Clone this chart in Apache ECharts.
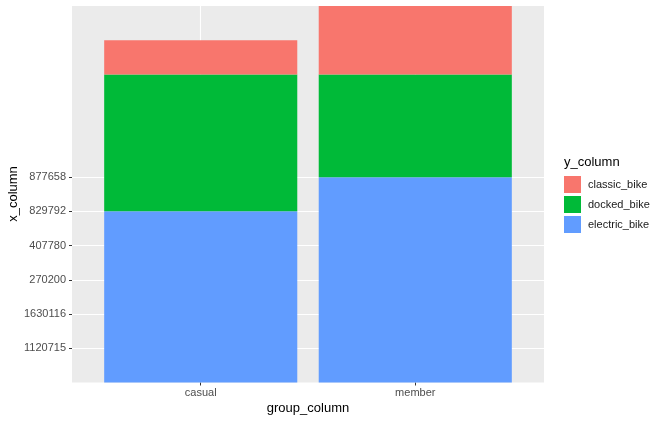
<!DOCTYPE html>
<html>
<head>
<meta charset="utf-8">
<script src="https://cdn.jsdelivr.net/npm/echarts@6/dist/echarts.min.js"></script>
<style>
html,body{margin:0;padding:0;background:#fff;}
#main{width:664px;height:422px;}
</style>
</head>
<body>
<div id="main"></div>
<script>
// Discrete y-axis levels (as shown on the axis, in order)
const tickLabels = ['1120715', '1630116', '270200', '407780', '829792', '877658'];
const categories = ['casual', 'member'];
const classicBike = ['1120715', '1630116'];
const dockedBike = ['407780', '270200'];
const electricBike = ['829792', '877658'];
const seriesNames = ['classic_bike', 'docked_bike', 'electric_bike'];
const colors = { classic_bike: '#F8766D', docked_bike: '#00BA38', electric_bike: '#619CFF' };

const FONT = '"Liberation Sans", Arial, sans-serif';
const chart = echarts.init(document.getElementById('main'));

// each value is drawn at the position of its level on the discrete axis
function toData(arr) {
  return arr.map(v => tickLabels.indexOf(v) + 1);
}
const yPositions = tickLabels.map((_, i) => i + 1);
const xPositions = categories.map((_, i) => i + 1);

// panel geometry (ggplot-like discrete expansion of 0.6 on each side)
const panelLeft = 72, panelRight = 544, panelTop = 6, panelBottom = 382.5;
const unit = (panelRight - panelLeft) / 2.2;
const barLeft = panelLeft + 0.1 * unit;
const barRight = panelRight - 0.1 * unit;

function barSeries(name, arr) {
  return {
    name: name, type: 'bar', stack: 'total', barWidth: '90%',
    xAxisIndex: 1, yAxisIndex: 1,
    itemStyle: { color: colors[name] },
    data: toData(arr)
  };
}

chart.setOption({
  animation: false,
  grid: [
    { left: panelLeft, right: 664 - panelRight, top: panelTop, bottom: 422 - panelBottom, show: true, backgroundColor: '#EBEBEB', borderWidth: 0 },
    { left: barLeft, right: 664 - barRight, top: panelTop, bottom: 422 - panelBottom, show: false }
  ],
  xAxis: [{
    type: 'value', min: 0.4, max: 2.6, gridIndex: 0,
    axisLine: { show: false },
    axisTick: { show: true, customValues: xPositions, length: 3, lineStyle: { color: '#333333', width: 1 } },
    axisLabel: { customValues: xPositions, margin: 5, fontSize: 11, fontFamily: FONT, color: '#4D4D4D',
      formatter: v => categories[Math.round(v) - 1] || '' },
    splitLine: { show: true, lineStyle: { color: '#FFFFFF', width: 1.1 } }
  }, {
    type: 'category', data: categories, gridIndex: 1,
    axisLine: { show: false }, axisTick: { show: false }, axisLabel: { show: false }, splitLine: { show: false }
  }],
  yAxis: [{
    type: 'value', min: 0, max: 11, gridIndex: 0,
    axisLine: { show: false },
    axisTick: { show: true, customValues: yPositions, length: 3, lineStyle: { color: '#333333', width: 1 } },
    axisLabel: { customValues: yPositions, margin: 6, fontSize: 11, fontFamily: FONT, color: '#4D4D4D',
      formatter: v => tickLabels[Math.round(v) - 1] || '' },
    splitLine: { show: true, lineStyle: { color: '#FFFFFF', width: 1.1 } }
  }, {
    type: 'value', min: 0, max: 11, gridIndex: 1,
    axisLine: { show: false }, axisTick: { show: false }, axisLabel: { show: false }, splitLine: { show: false }
  }],
  legend: {
    orient: 'vertical', left: 564, top: 176, padding: 0, itemWidth: 17, itemHeight: 17, itemGap: 3,
    icon: 'rect', data: seriesNames,
    formatter: n => '{t|' + n + '}',
    textStyle: { fontSize: 11, fontFamily: FONT, color: '#1A1A1A',
      rich: { t: { fontSize: 11, fontFamily: FONT, color: '#1A1A1A', padding: [0, 0, 0, 2] } } }
  },
  graphic: [
    { type: 'text', left: 564, top: 156, style: { text: 'y_column', fontSize: 13, fontFamily: FONT, fill: '#000' } },
    { type: 'text', x: 308, y: 408, style: { text: 'group_column', fontSize: 13, fontFamily: FONT, fill: '#000', align: 'center', verticalAlign: 'middle' } },
    { type: 'text', x: 13, y: 194, rotation: Math.PI / 2, style: { text: 'x_column', fontSize: 13, fontFamily: FONT, fill: '#000', align: 'center', verticalAlign: 'middle' } }
  ],
  series: [
    barSeries('electric_bike', electricBike),
    barSeries('docked_bike', dockedBike),
    barSeries('classic_bike', classicBike)
  ]
});
</script>
</body>
</html>
